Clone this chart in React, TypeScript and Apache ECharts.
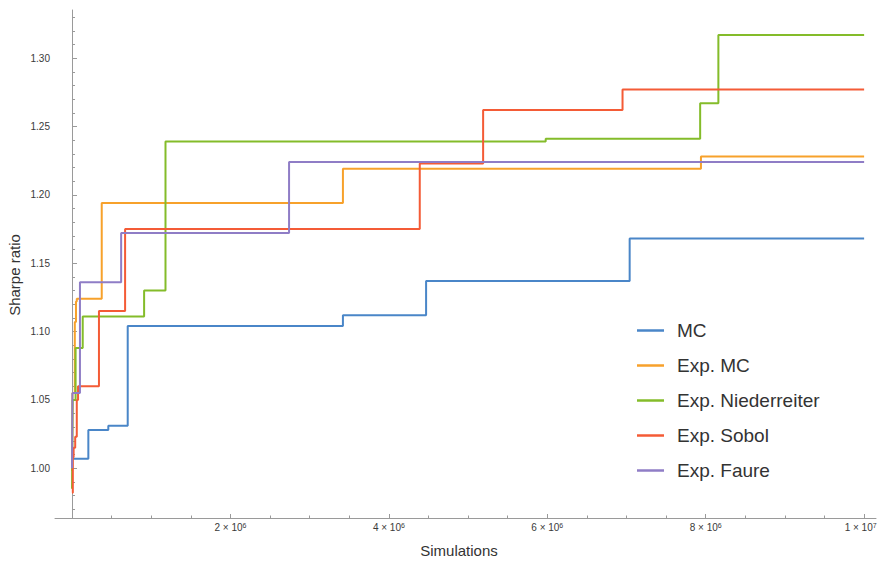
import React, { useEffect, useRef } from "react";
import * as echarts from "echarts";

// Running best Sharpe ratio against number of simulations (x in simulations).
const SERIES_NAMES = ["MC", "Exp. MC", "Exp. Niederreiter", "Exp. Sobol", "Exp. Faure"];
const SERIES_COLORS = ["#4a86c8", "#f7a12b", "#84bc2a", "#f45b36", "#8f7dc6"];

const MC_X = [0, 206000, 458000, 703000, 3420000, 4470000, 7040000, 10000000];
const MC_Y = [1.007, 1.028, 1.031, 1.104, 1.112, 1.137, 1.168, 1.168];

const EXP_MC_X = [0, 5000, 35000, 50000, 60000, 375000, 3420000, 7940000, 10000000];
const EXP_MC_Y = [0.998, 1.055, 1.107, 1.122, 1.124, 1.194, 1.219, 1.228, 1.228];

const NIED_X = [0, 8000, 45000, 135000, 910000, 1180000, 5980000, 7930000, 8160000, 10000000];
const NIED_Y = [0.985, 1.05, 1.088, 1.111, 1.13, 1.239, 1.241, 1.267, 1.317, 1.317];

const SOBOL_X = [0, 10000, 20000, 40000, 60000, 76000, 340000, 670000, 4390000, 5190000, 6950000, 10000000];
const SOBOL_Y = [0.982, 1.008, 1.015, 1.023, 1.05, 1.06, 1.115, 1.175, 1.223, 1.262, 1.277, 1.277];

const FAURE_X = [0, 5000, 100000, 620000, 2740000, 10000000];
const FAURE_Y = [1.0, 1.055, 1.136, 1.172, 1.224, 1.224];

const X_TICKS = [2000000, 4000000, 6000000, 8000000, 10000000];
const X_MINOR_TICKS = [
  500000, 1000000, 1500000, 2500000, 3000000, 3500000, 4500000, 5000000, 5500000,
  6500000, 7000000, 7500000, 8500000, 9000000, 9500000, 10000000,
];
const Y_TICKS = [1.0, 1.05, 1.1, 1.15, 1.2, 1.25, 1.3];
const Y_MINOR_TICKS = [
  0.97, 0.98, 0.99, 1.01, 1.02, 1.03, 1.04, 1.06, 1.07, 1.08, 1.09, 1.11, 1.12, 1.13, 1.14,
  1.16, 1.17, 1.18, 1.19, 1.21, 1.22, 1.23, 1.24, 1.26, 1.27, 1.28, 1.29, 1.31, 1.32, 1.33,
];

const X_MIN = -215000;
const X_MAX = 10150000;
const Y_MIN = 0.9636;
const Y_MAX = 1.3352;

const FONT = "'Liberation Sans', Arial, sans-serif";
const AXIS_COLOR = "#9a9a9a";
const TICK_TEXT = "#3a3a3a";

const zip = (xs: number[], ys: number[]) => xs.map((x, i) => [x, ys[i]]);

const SERIES_DATA = [
  zip(MC_X, MC_Y),
  zip(EXP_MC_X, EXP_MC_Y),
  zip(NIED_X, NIED_Y),
  zip(SOBOL_X, SOBOL_Y),
  zip(FAURE_X, FAURE_Y),
];

// "m × 10^e" with a raised exponent; the last label is nudged left to stay on the canvas.
function sciLabel(v: number): string {
  const e = Math.floor(Math.log10(v) + 1e-9);
  const m = Math.round(v / Math.pow(10, e));
  const tag = v >= X_TICKS[X_TICKS.length - 1] ? "se" : "s";
  return `${m} × 10{${tag}|${e}}`;
}

export default function App() {
  const ref = useRef<HTMLDivElement>(null);

  useEffect(() => {
    if (!ref.current) return;
    const chart = echarts.init(ref.current, null, { renderer: "svg" });

    const baseX = {
      type: "value" as const,
      min: X_MIN,
      max: X_MAX,
      position: "bottom" as const,
      splitLine: { show: false },
    };
    const baseY = {
      type: "value" as const,
      min: Y_MIN,
      max: Y_MAX,
      position: "left" as const,
      splitLine: { show: false },
    };

    const supStyle = { fontSize: 7, fontFamily: FONT, color: TICK_TEXT, verticalAlign: "top", lineHeight: 10 };

    chart.setOption({
      animation: false,
      backgroundColor: "#ffffff",
      grid: {
        left: 55,
        right: 2,
        top: 10,
        bottom: 43,
        containLabel: false,
        outerBoundsMode: "none",
      },
      xAxis: [
        {
          ...baseX,
          axisLine: { show: true, onZero: false, lineStyle: { color: AXIS_COLOR, width: 1 } },
          axisTick: {
            show: true,
            inside: true,
            length: 4,
            customValues: X_TICKS,
            lineStyle: { color: AXIS_COLOR },
          },
          axisLabel: {
            show: true,
            customValues: X_TICKS,
            margin: 4,
            fontFamily: FONT,
            fontSize: 10,
            color: TICK_TEXT,
            formatter: (v: number) => sciLabel(v),
            rich: {
              s: supStyle,
              se: { ...supStyle, padding: [0, 7, 0, 0] },
            },
          },
        },
        {
          ...baseX,
          axisLine: { show: false, onZero: false },
          axisTick: {
            show: true,
            inside: true,
            length: 2.5,
            customValues: X_MINOR_TICKS,
            lineStyle: { color: AXIS_COLOR },
          },
          axisLabel: { show: false },
        },
      ],
      yAxis: [
        {
          ...baseY,
          axisLine: { show: true, onZero: true, onZeroAxisIndex: 0, lineStyle: { color: AXIS_COLOR, width: 1 } },
          axisTick: {
            show: true,
            inside: true,
            length: 5,
            customValues: Y_TICKS,
            lineStyle: { color: AXIS_COLOR },
          },
          axisLabel: {
            show: true,
            customValues: Y_TICKS,
            margin: 5,
            fontFamily: FONT,
            fontSize: 10,
            color: TICK_TEXT,
            formatter: (v: number) => v.toFixed(2),
          },
        },
        {
          ...baseY,
          axisLine: { show: false, onZero: true, onZeroAxisIndex: 0 },
          axisTick: {
            show: true,
            inside: true,
            length: 3,
            customValues: Y_MINOR_TICKS,
            lineStyle: { color: AXIS_COLOR },
          },
          axisLabel: { show: false },
        },
      ],
      legend: {
        orient: "vertical",
        left: 632,
        top: 316,
        icon: "rect",
        itemWidth: 27,
        itemHeight: 2.5,
        itemGap: 16,
        data: SERIES_NAMES,
        textStyle: {
          fontFamily: FONT,
          fontSize: 19,
          lineHeight: 19,
          color: "#333",
          padding: [0, 0, 0, 8],
        },
      },
      graphic: [
        {
          type: "text",
          x: 14,
          y: 275,
          rotation: Math.PI / 2,
          style: {
            text: "Sharpe ratio",
            fontFamily: FONT,
            fontSize: 15,
            fill: "#333",
            align: "center",
            verticalAlign: "middle",
          },
        },
        {
          type: "text",
          x: 459,
          y: 550,
          style: {
            text: "Simulations",
            fontFamily: FONT,
            fontSize: 15,
            fill: "#333",
            align: "center",
            verticalAlign: "middle",
          },
        },
      ],
      series: SERIES_NAMES.map((name, i) => ({
        name,
        type: "line",
        step: "end",
        xAxisIndex: 0,
        yAxisIndex: 0,
        symbol: "none",
        color: SERIES_COLORS[i],
        lineStyle: { width: 2, color: SERIES_COLORS[i] },
        data: SERIES_DATA[i],
      })),
    });

    return () => chart.dispose();
  }, []);

  return (
    <div
      ref={ref}
      style={{ position: "fixed", left: 0, top: 0, width: 878, height: 561, background: "#fff" }}
    />
  );
}
